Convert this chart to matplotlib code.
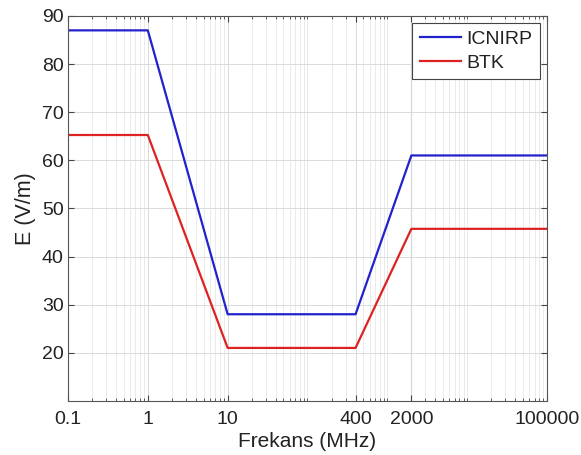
import matplotlib
matplotlib.use("Agg")
import matplotlib.pyplot as plt
from matplotlib.ticker import LogLocator, NullFormatter, FixedLocator, FixedFormatter

plt.rcParams['font.family'] = ['Liberation Sans', 'DejaVu Sans']

freq = [0.1, 1, 10, 400, 2000, 100000]
icnirp = [87, 87, 28, 28, 61, 61]
btk = [65.25, 65.25, 21, 21, 45.75, 45.75]
xtick_vals = [0.1, 1, 10, 400, 2000, 100000]
xtick_labels = ['0.1', '1', '10', '400', '2000', '100000']
ytick_vals = [20, 30, 40, 50, 60, 70, 80, 90]

fig = plt.figure(figsize=(5.81, 4.55), dpi=100)
ax = fig.add_axes([0.117, 0.119, 0.8245, 0.846])

ax.plot(freq, icnirp, color='#2222cc', lw=1.6, label='ICNIRP')
ax.plot(freq, btk, color='#dd2222', lw=1.6, label='BTK')

ax.set_xscale('log')
ax.set_xlim(0.1, 100000)
ax.set_ylim(10, 90)
ax.xaxis.set_major_locator(FixedLocator(xtick_vals))
ax.xaxis.set_major_formatter(FixedFormatter(xtick_labels))
ax.xaxis.set_minor_locator(LogLocator(base=10, subs=range(1, 10), numticks=50))
ax.xaxis.set_minor_formatter(NullFormatter())
ax.set_yticks(ytick_vals)

ax.grid(True, which='major', color='#dadada', lw=0.7)
ax.grid(True, which='minor', axis='x', color='#e8e8e8', lw=0.6)
ax.axvline(xtick_vals[4], color='#a0a0a0', lw=0.8, zorder=1)

ax.tick_params(which='both', direction='in', top=True, right=True, labelsize=14, colors='#444444')
ax.tick_params(which='major', length=4)
ax.tick_params(which='minor', length=2)
ax.tick_params(axis='x', which='major', pad=7)
ax.tick_params(axis='y', which='major', pad=3)
ax.tick_params(labelcolor='#222222')
for s in ax.spines.values():
    s.set_color('#555555')
    s.set_linewidth(0.8)

ax.set_xlabel('Frekans (MHz)', fontsize=15, labelpad=3, color='#222222')
ax.set_ylabel('E (V/m)', fontsize=15.5, labelpad=4, color='#222222')

leg = ax.legend(loc='upper right', fontsize=14, fancybox=False, edgecolor='#444444',
                framealpha=1, handlelength=2.1, borderpad=0.4, labelspacing=0.3,
                handletextpad=0.3, borderaxespad=0.35)
leg.get_frame().set_linewidth(0.8)
for t in leg.get_texts():
    t.set_color('#222222')

fig.savefig('out.png', dpi=100)
